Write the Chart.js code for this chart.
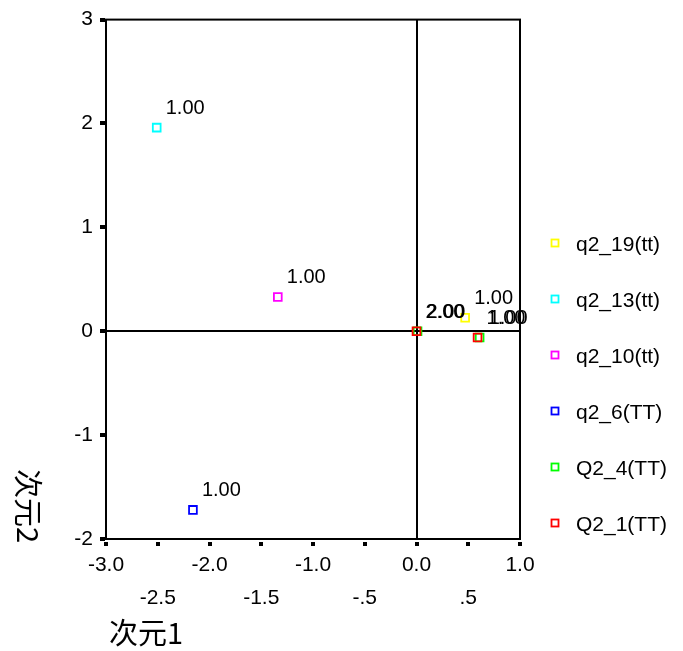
<!DOCTYPE html>
<html>
<head>
<meta charset="utf-8">
<script src="https://cdn.jsdelivr.net/npm/chart.js@4"></script>
<style>
  html, body { margin: 0; padding: 0; background: #fff; }
  #wrap { width: 683px; height: 651px; }
</style>
</head>
<body>
<div id="wrap"><canvas id="chart"></canvas></div>
<script>
// series, in legend order
var seriesNames = ['q2_19(tt)', 'q2_13(tt)', 'q2_10(tt)', 'q2_6(TT)', 'Q2_4(TT)', 'Q2_1(TT)'];
var seriesColors = ['#ffff00', '#00ffff', '#ff00ff', '#0000ff', '#00ff00', '#ff0000'];

// dimension 1 / dimension 2 coordinates per series, with the value printed beside each point
var dim1 = [[0.47], [-2.51], [-1.34], [-2.16], [0.61, 0.01], [0.59, 0.0]];
var dim2 = [[0.13], [1.96], [0.33], [-1.72], [-0.06, 0.0], [-0.06, 0.0]];
var pointLabels = [['1.00'], ['1.00'], ['1.00'], ['1.00'], ['1.00', '2.00'], ['1.00', '2.00']];

var xTickLabels = ['-3.0', '-2.5', '-2.0', '-1.5', '-1.0', '-.5', '0.0', '.5', '1.0'];
var yTickLabels = ['-2', '-1', '0', '1', '2', '3'];

var xTitle = '次元1';
var yTitle = '次元2';

var tickFont = { family: 'Liberation Sans, Arial, sans-serif', size: 21, lineHeight: 1.55 };

var datasets = seriesNames.map(function (name, i) {
    return {
        label: name,
        data: dim1[i].map(function (x, j) { return { x: x, y: dim2[i][j] }; }),
        pointLabels: pointLabels[i],
        pointStyle: 'rect',
        pointRadius: 5.5,
        pointHoverRadius: 5.5,
        pointBorderWidth: 1.8,
        borderColor: seriesColors[i],
        backgroundColor: 'rgba(0,0,0,0)',
        order: seriesNames.length - i
    };
});

// value text beside each point
var labelPlugin = {
    id: 'pointText',
    afterDatasetsDraw: function (chart) {
        var ctx = chart.ctx;
        ctx.save();
        ctx.fillStyle = '#000';
        ctx.font = '20px Liberation Sans, Arial, sans-serif';
        ctx.textBaseline = 'middle';
        ctx.textAlign = 'left';
        chart.data.datasets.forEach(function (ds, i) {
            var meta = chart.getDatasetMeta(i);
            meta.data.forEach(function (el, j) {
                ctx.fillText(ds.pointLabels[j], el.x + 9, el.y - 19);
            });
        });
        ctx.restore();
    }
};

// frame, axis titles and legend
var framePlugin = {
    id: 'frame',
    afterDraw: function (chart) {
        var ctx = chart.ctx;
        var a = chart.chartArea;
        ctx.save();
        ctx.strokeStyle = '#000';
        ctx.lineWidth = 2;
        ctx.strokeRect(a.left, a.top, a.right - a.left, a.bottom - a.top);

        ctx.fillStyle = '#000';
        ctx.font = '29px "Noto Sans CJK SC", sans-serif';
        ctx.textBaseline = 'middle';
        ctx.textAlign = 'left';
        ctx.fillText(xTitle, a.left + 3, 633);

        ctx.translate(28, 506);
        ctx.rotate(Math.PI / 2);
        ctx.textAlign = 'center';
        ctx.fillText(yTitle, 0, 0);
        ctx.restore();

        // legend
        ctx.save();
        ctx.font = '21px Liberation Sans, Arial, sans-serif';
        ctx.textBaseline = 'middle';
        chart.data.datasets.forEach(function (ds, i) {
            var y = 243 + i * 56;
            ctx.strokeStyle = ds.borderColor;
            ctx.lineWidth = 1.8;
            ctx.strokeRect(551.5, y - 3.5, 7, 7);
            ctx.fillStyle = '#000';
            ctx.fillText(ds.label, 576, y + 2);
        });
        ctx.restore();
    }
};

function zeroLine(c) {
    return c.tick && c.tick.value === 0 ? '#000' : 'rgba(0,0,0,0)';
}

new Chart(document.getElementById('chart'), {
    type: 'scatter',
    data: { datasets: datasets },
    options: {
        responsive: true,
        maintainAspectRatio: false,
        animation: false,
        layout: { padding: { left: 0, top: 17, right: 163, bottom: 0 } },
        plugins: {
            legend: { display: false },
            tooltip: { enabled: false }
        },
        scales: {
            x: {
                type: 'linear',
                min: -3,
                max: 1,
                afterFit: function (scale) { scale.height = 112; },
                afterBuildTicks: function (scale) {
                    scale.ticks = xTickLabels.map(function (t, i) { return { value: -3 + i * 0.5 }; });
                },
                ticks: {
                    color: '#000',
                    font: tickFont,
                    padding: 3,
                    maxRotation: 0,
                    autoSkip: false,
                    callback: function (value, index) {
                        return index % 2 === 0 ? [xTickLabels[index]] : ['', xTickLabels[index]];
                    }
                },
                grid: {
                    color: zeroLine,
                    lineWidth: 2,
                    drawTicks: true,
                    tickColor: '#000',
                    tickLength: 7,
                    tickWidth: 4,
                    tickBorderDash: [0, 2, 4, 20]
                },
                border: { display: true, color: '#000', width: 2 }
            },
            y: {
                type: 'linear',
                min: -2,
                max: 3,
                afterFit: function (scale) { scale.width = 106; },
                afterBuildTicks: function (scale) {
                    scale.ticks = yTickLabels.map(function (t, i) { return { value: -2 + i }; });
                },
                ticks: {
                    color: '#000',
                    font: { family: 'Liberation Sans, Arial, sans-serif', size: 21 },
                    padding: 7,
                    autoSkip: false,
                    callback: function (value, index) { return yTickLabels[index]; }
                },
                grid: {
                    color: zeroLine,
                    lineWidth: 2,
                    drawTicks: true,
                    tickColor: '#000',
                    tickLength: 6,
                    tickWidth: 4
                },
                border: { display: true, color: '#000', width: 2 }
            }
        }
    },
    plugins: [labelPlugin, framePlugin]
});
</script>
</body>
</html>
